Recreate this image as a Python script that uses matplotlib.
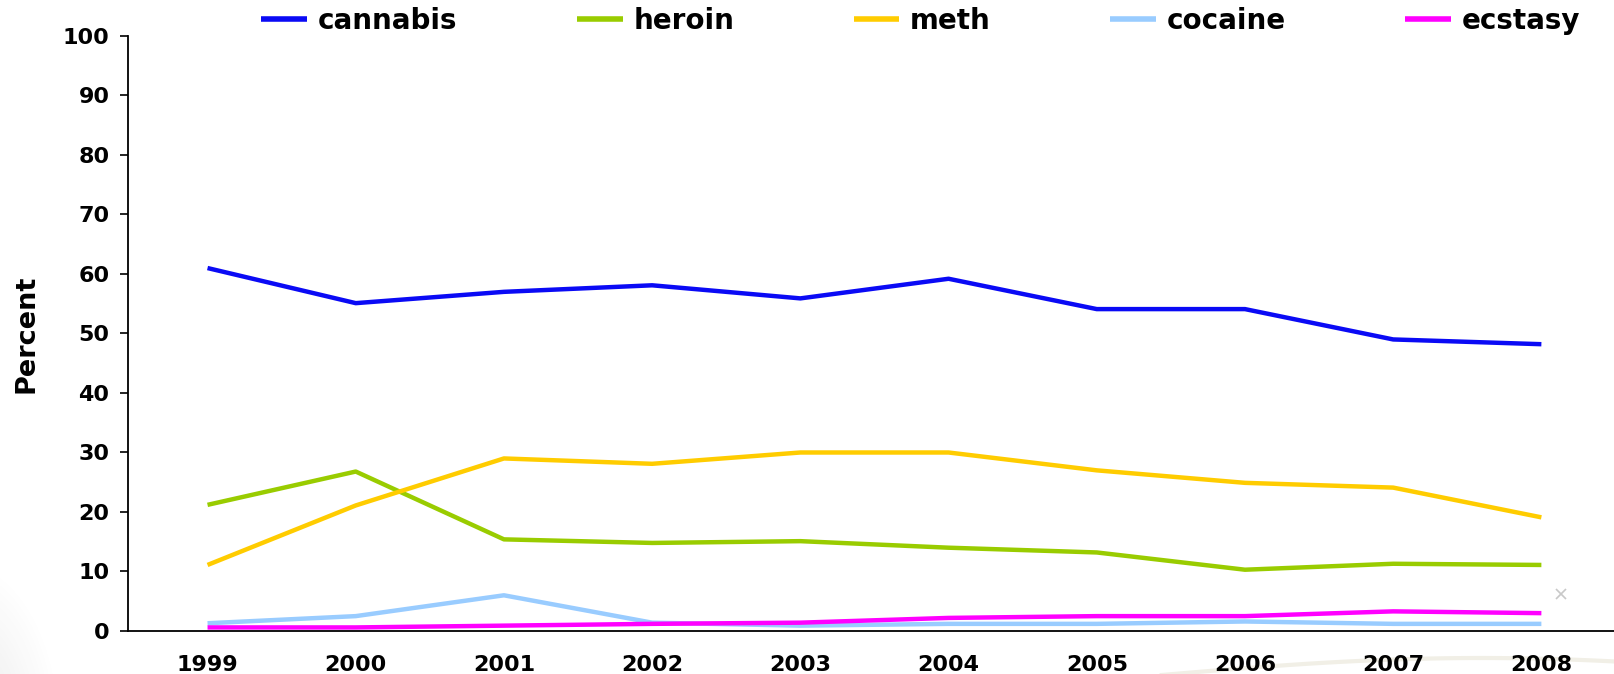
import numpy as np
import matplotlib.pyplot as plt

years = [1999, 2000, 2001, 2002, 2003, 2004, 2005, 2006, 2007, 2008]

cannabis = [61.0, 55.1, 57.0, 58.1, 55.9, 59.2, 54.1, 54.1, 49.0, 48.2]
heroin = [21.2, 26.8, 15.4, 14.8, 15.1, 14.0, 13.2, 10.3, 11.3, 11.1]
meth = [11.1, 21.1, 29.0, 28.1, 30.0, 30.0, 27.0, 24.9, 24.1, 19.1]
cocaine = [1.3, 2.5, 6.0, 1.4, 0.9, 1.2, 1.2, 1.6, 1.2, 1.2]
ecstasy = [0.6, 0.6, 0.9, 1.2, 1.4, 2.2, 2.5, 2.5, 3.3, 3.0]

series = [
    ("cannabis", cannabis, "#0A0AF5"),
    ("heroin", heroin, "#99CC00"),
    ("meth", meth, "#FFCC00"),
    ("cocaine", cocaine, "#99CCFF"),
    ("ecstasy", ecstasy, "#FF00FF"),
]

plt.rcParams["font.family"] = ["DejaVu Sans"]
plt.rcParams["font.weight"] = "bold"

fig = plt.figure(figsize=(16.14, 6.74), dpi=100)

# soft grey shading in the lower left corner of the slide background
bg = fig.add_axes([0, 0, 1, 1], zorder=-10)
bg.set_xlim(0, 1614)
bg.set_ylim(674, 0)
bg.axis("off")
gx, gy = np.meshgrid(np.arange(0, 200), np.arange(480, 674))
d = np.hypot((gx + 40) / 100.0, (gy - 730) / 170.0)
shade = np.clip(1 - d, 0, 1) * 0.2
img = np.ones((gy.shape[0], gx.shape[1], 4))
img[..., :3] = 0.55
img[..., 3] = shade
bg.imshow(img, extent=(0, 200, 674, 480), aspect="auto", interpolation="bilinear")
# faint swoosh at the bottom right
arc_x = np.linspace(1150, 1614, 100)
arc_y = 676 - 18 * np.sin((arc_x - 1150) / 464 * np.pi * 0.7)
bg.plot(arc_x, arc_y, color="#F1EFE6", lw=3)

ax = fig.add_axes([0.079, 0.0638, 0.921, 0.8828])
for name, vals, color in series:
    ax.plot(years, vals, color=color, lw=3.2, label=name, solid_capstyle="butt")

# small grey marker to the right of the last point
ax.plot([2008.13], [6.2], marker="x", color="#C8C8C8", ms=7, mew=1.2)

ax.set_xlim(1998.46, 2008.49)
ax.set_ylim(0, 100)
ax.set_yticks(range(0, 101, 10))
ax.set_xticks(years)
ax.tick_params(axis="y", length=6, width=1.2, pad=7, labelsize=16)
ax.tick_params(axis="x", length=0, pad=17, labelsize=16)
for lab in ax.get_xticklabels() + ax.get_yticklabels():
    lab.set_fontweight("bold")

ax.spines["top"].set_visible(False)
ax.spines["right"].set_visible(False)
ax.spines["left"].set_linewidth(1.3)
ax.spines["bottom"].set_linewidth(1.3)
ax.set_ylabel("Percent", fontsize=19.5, fontweight="bold", labelpad=17)

leg = fig.legend(loc="center left", bbox_to_anchor=(0.162, 0.969), ncol=5,
                 frameon=False, fontsize=20, handlelength=1.65, handletextpad=0.38,
                 columnspacing=4.3, borderpad=0, borderaxespad=0)
for line in leg.get_lines():
    line.set_linewidth(4)

fig.savefig("out.png", dpi=100)
